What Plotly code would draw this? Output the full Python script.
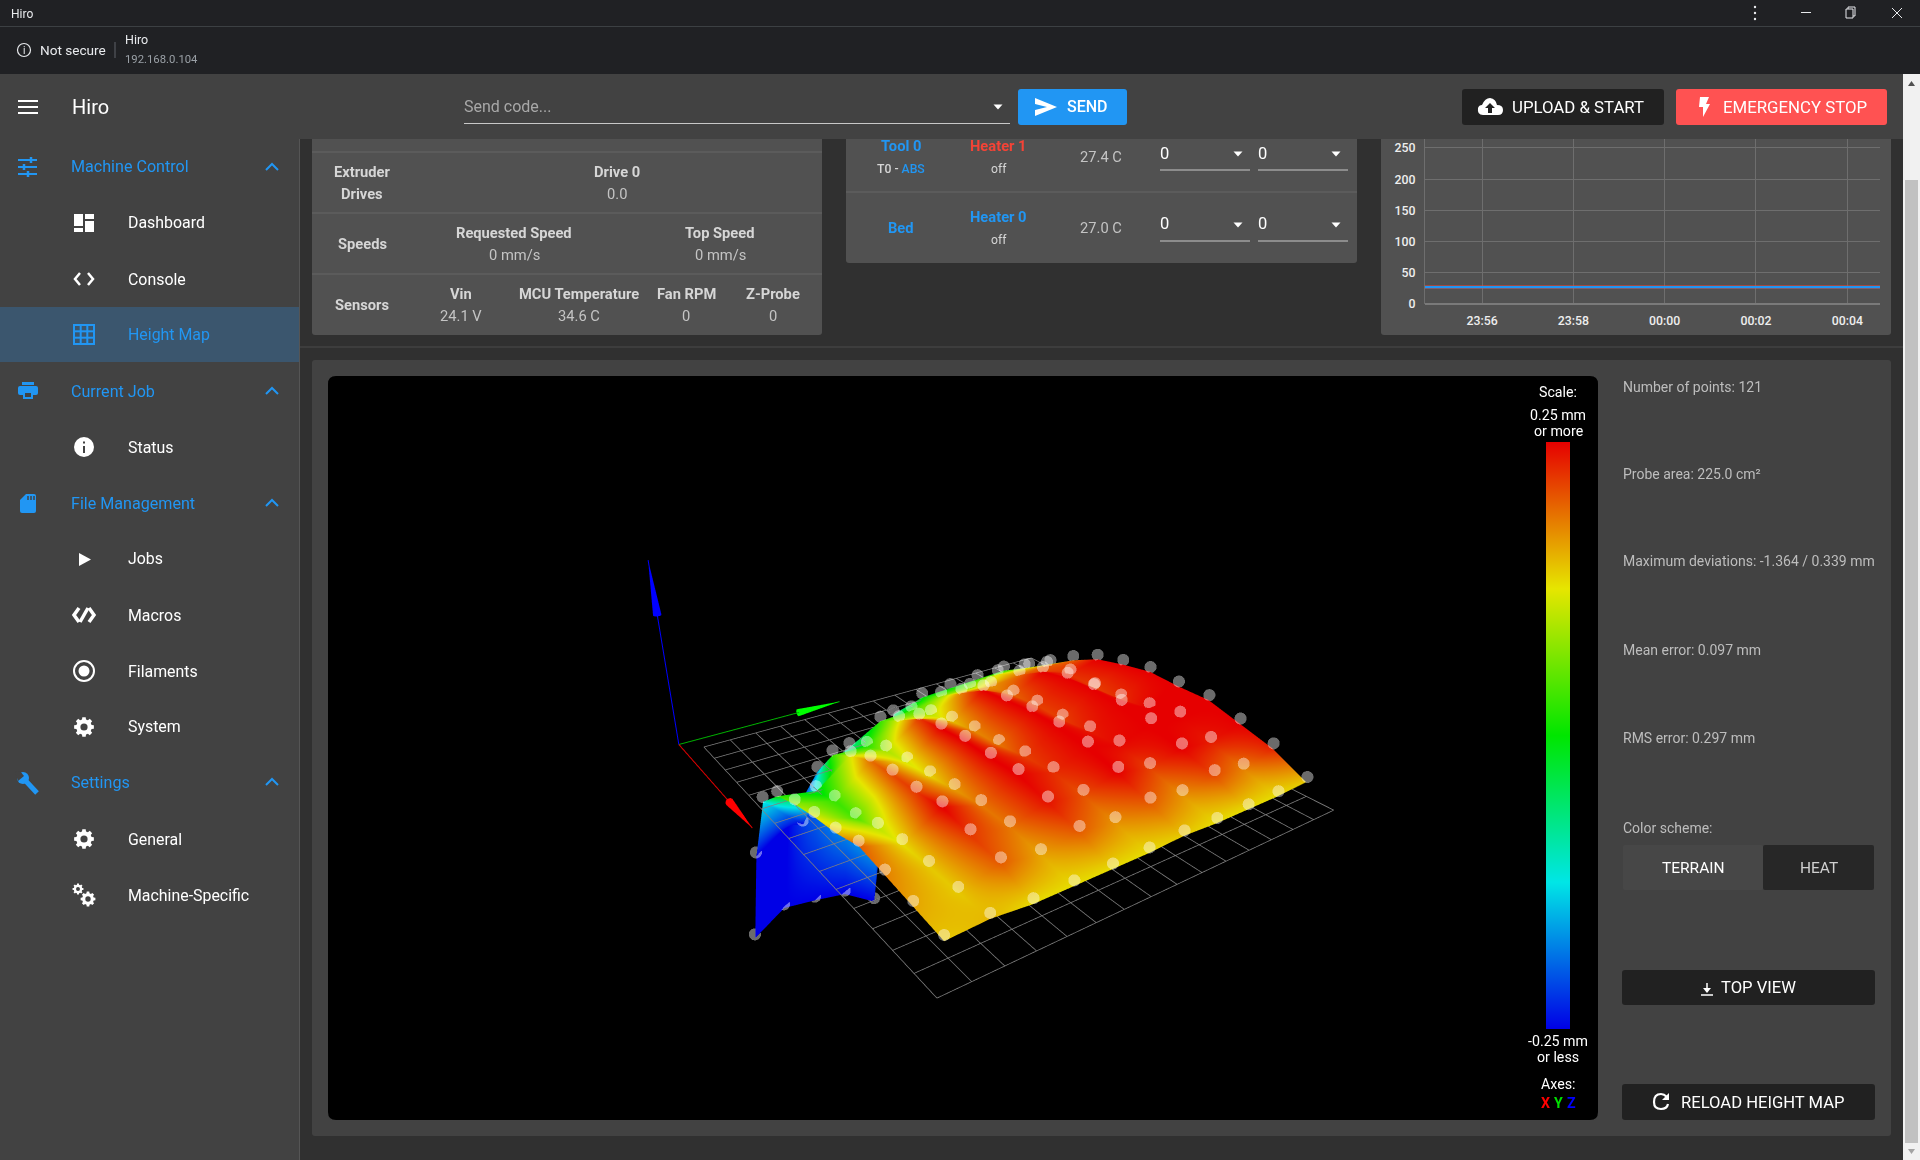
import re, math
import numpy as np
import plotly.graph_objects as go

W, H = 1920, 1160
probe_x = [0, 15, 30, 45, 60, 75, 90, 105, 120, 135, 150]
probe_y = [0, 15, 30, 45, 60, 75, 90, 105, 120, 135, 150]
grid_ticks = [-7.5 + 11 * k for k in range(16)]
# one list per X index, one value per Y index (mm)
z_x00 = [-1.32,-1.18,-1.21,-1.25,-1.40,-.07,-.01,0,.01,.02,-.01]
z_x01 = [-.59,-.45,-.17,-.08,.03,.04,.08,.08,.12,.11,.09]
z_x02 = [-.12,-.34,.03,.02,.12,.10,.18,.17,.19,.20,.19]
z_x03 = [.02,-.02,.12,.09,.22,.145,.28,.195,.29,.225,.27]
z_x04 = [.08,.03,.19,.115,.25,.175,.30,.215,.33,.215,.31]
z_x05 = [.12,.04,.21,.135,.27,.185,.32,.215,.34,.225,.34]
z_x06 = [.15,.10,.22,.165,.27,.215,.32,.235,.33,.255,.33]
z_x07 = [.20,.13,.25,.185,.28,.225,.30,.245,.31,.29,.33]
z_x08 = [.18,.14,.22,.185,.24,.205,.26,.215,.26,.235,.28]
z_x09 = [.16,.14,.20,.16,.20,.17,.20,.17,.21,.18,.23]
z_x10 = [.14,.15,.13,.13,.13,.13,.14,.13,.13,.13,.14]
z_by_x = [z_x00,z_x01,z_x02,z_x03,z_x04,z_x05,z_x06,z_x07,z_x08,z_x09,z_x10]
z_values = [[z_by_x[i][j] for i in range(11)] for j in range(11)]

times = ["2020-01-01 23:54:45","2020-01-01 23:57:00","2020-01-01 23:59:30","2020-01-02 00:02:00","2020-01-02 00:04:43"]
heater1 = [27.4,27.4,27.4,27.4,27.4]
heater0 = [27.0,27.0,27.0,27.0,27.0]
scale_colors = [[0,"#0000e6"],[.25,"#00e6e6"],[.5,"#00e600"],[.75,"#e6e600"],[1,"#e60000"]]

def fx(x): return x/W
def fy(y): return 1-y/H
def conv(d):
    out=[];isx=True
    for t in re.findall(r"[MLQCZ]|-?\d+\.?\d*",d):
        if t in "MLQCZ": out.append(t);isx=True
        else:
            out.append(str(fx(float(t))) if isx else str(fy(float(t))));isx=not isx
    return " ".join(out)
shapes=[];anns=[]
def path(d,fill=None,color=None,w=0,layer="above"):
    shapes.append(dict(type="path",path=conv(d),xref="paper",yref="paper",layer=layer,
        fillcolor=fill or "rgba(0,0,0,0)",line=dict(color=color or "rgba(0,0,0,0)",width=w)))
def rect(x0,y0,x1,y1,fill,r=0,layer="above"):
    if r==0: d=f"M {x0} {y0} L {x1} {y0} L {x1} {y1} L {x0} {y1} Z"
    else: d=(f"M {x0+r} {y0} L {x1-r} {y0} Q {x1} {y0} {x1} {y0+r} L {x1} {y1-r} Q {x1} {y1} {x1-r} {y1} "
             f"L {x0+r} {y1} Q {x0} {y1} {x0} {y1-r} L {x0} {y0+r} Q {x0} {y0} {x0+r} {y0} Z")
    path(d,fill=fill,layer=layer)
def line(x0,y0,x1,y1,c,w=1,layer="above"):
    shapes.append(dict(type="line",x0=fx(x0),x1=fx(x1),y0=fy(y0),y1=fy(y1),xref="paper",yref="paper",layer=layer,line=dict(color=c,width=w)))
def circ(cx,cy,r,fill=None,c=None,w=0):
    shapes.append(dict(type="circle",x0=fx(cx-r),x1=fx(cx+r),y0=fy(cy+r),y1=fy(cy-r),xref="paper",yref="paper",layer="above",
        fillcolor=fill or "rgba(0,0,0,0)",line=dict(color=c or "rgba(0,0,0,0)",width=w)))
def T(x,y,s,size=14.7,c="#ffffff",a="left",wt=400,fam="Roboto"):
    anns.append(dict(x=fx(x),y=fy(y),xref="paper",yref="paper",text=s,showarrow=False,xanchor=a,yanchor="middle",
        font=dict(family=fam,size=size,color=c,weight=wt),borderpad=0,borderwidth=0))
def tri(cx,cy,w=9,h=5,c="#ffffff"):
    path(f"M {cx-w/2} {cy-h/2} L {cx+w/2} {cy-h/2} L {cx} {cy+h/2} Z",fill=c)
def gear(cx,cy,R,hole):
    pts=[]
    for k in range(8):
        a=k*math.pi/4
        for da,rr in ((-.26,.78),(-.17,1),(.17,1),(.26,.78)):
            pts.append((cx+R*rr*math.cos(a+da),cy+R*rr*math.sin(a+da)))
    path("M "+" L ".join(f"{x:.2f} {y:.2f}" for x,y in pts)+" Z",fill="#ffffff")
    circ(cx,cy,R*.36,fill=hole)

BLUE="#2196f3";MAIN="#303030";BAR="#424242";CARD="#515151";TOP="#202124";RULE="#666666"
rect(312,130,822,335,CARD,3,layer="below")
rect(846,130,1357,263,CARD,3,layer="below")
rect(1381,130,1891,335,CARD,3,layer="below")
line(300,347,1903,347,"#4a4a4a",1,layer="below")
rect(312,360,1891,1136,BAR,3,layer="below")
rect(328,376,1598,1120,"#000000",8,layer="below")
for y in (152,213,274): line(312,y,822,y,RULE,1,layer="below")
line(846,192,1357,192,RULE,1,layer="below")
rect(0,0,1920,26,TOP);line(0,26.5,1920,26.5,"#3c4043",1)
rect(0,27,1920,74,TOP)
rect(0,74,1903,139,BAR)
rect(0,139,300,1160,BAR);line(299.5,139,299.5,1160,"#555555",1)
rect(0,307,299,362,"#3b566e")
T(11,14,"Hiro",12,"#e8eaed")
circ(24,50,6.5,c="#e8eaed",w=1.2);T(24,50,"i",10,"#e8eaed","center")
T(40,50,"Not secure",13.6,"#e8eaed")
line(115,42,115,58,"#5f6368",1)
T(125,40,"Hiro",12.5,"#e8eaed");T(125,59,"192.168.0.104",11.3,"#9aa0a6")
for dy in (7,13,19): circ(1755,dy,1.2,fill="#e8eaed")
line(1801,12.5,1811,12.5,"#e8eaed",1)
path("M 1846 9 L 1853 9 L 1853 18 L 1846 18 Z",color="#e8eaed",w=1);path("M 1848 9 L 1848 7 L 1855 7 L 1855 16 L 1853 16",color="#e8eaed",w=1)
line(1892,8,1902,18,"#e8eaed",1);line(1902,8,1892,18,"#e8eaed",1)
for y in (101,107,113): line(18,y,38,y,"#ffffff",2)
T(72,107,"Hiro",20,"#ffffff")
T(464,106,"Send code...",16,"#a8a8a8")
line(464,123.5,1010,123.5,"#c8c8c8",1.2);tri(998,107)
rect(1018,89,1127,125,BLUE,3)
path("M 1035 98 L 1057 107 L 1035 116 L 1035 110 L 1047 107 L 1035 104 Z",fill="#ffffff")
T(1087,107,"SEND",16,"#ffffff","center",500)
rect(1462,89,1664,125,"#212121",3)
path("M 1483 115 Q 1477 115 1478 108 Q 1479 105 1482 105 Q 1485 98 1490 98 Q 1496 99 1497 105 Q 1503 105 1503 110 Q 1503 115 1498 115 Z",fill="#ffffff")
path("M 1490 103 L 1495 108 L 1492 108 L 1492 113 L 1488 113 L 1488 108 L 1485 108 Z",fill="#212121")
T(1578,107,"UPLOAD & START",16.8,"#ffffff","center",400)
rect(1676,89,1887,125,"#ff5252",3)
path("M 1700 97 L 1709 97 L 1706 104 L 1710 104 L 1703 117 L 1703 107 L 1699 107 Z",fill="#ffffff")
T(1795,107,"EMERGENCY STOP",16.8,"#ffffff","center",400)
rect(1903,74,1920,1160,"#f1f1f1");rect(1905,180,1918,1143,"#c1c1c1")
path("M 1908 86 L 1915 86 L 1911.5 81 Z",fill="#505050");path("M 1908 1149 L 1915 1149 L 1911.5 1154 Z",fill="#a3a3a3")
groups=[("Machine Control",167),("Current Job",391),("File Management",503),("Settings",782)]
for s,y in groups:
    T(71,y,s,16.1,BLUE)
    path(f"M 266 {y+3} L 272 {y-3} L 278 {y+3}",color=BLUE,w=2)
items=[("Dashboard",223,"#ffffff"),("Console",279,"#ffffff"),("Height Map",335,BLUE),("Status",447,"#ffffff"),("Jobs",558,"#ffffff"),
       ("Macros",615,"#ffffff"),("Filaments",671,"#ffffff"),("System",727,"#ffffff"),("General",839,"#ffffff"),("Machine-Specific",895,"#ffffff")]
for s,y,c in items: T(128,y,s,15.9,c)
for y,x0,x1,bx in ((160,18,37,31),(167,18,37,24),(174,18,37,28)):
    line(x0,y,x1,y,BLUE,2);line(bx,y-3,bx,y+3,BLUE,2.5)
rect(74,214,83,226,"#ffffff");rect(74,228,83,232,"#ffffff");rect(85,214,94,219,"#ffffff");rect(85,221,94,232,"#ffffff")
path("M 80 273 L 75 279 L 80 285",color="#ffffff",w=2.5);path("M 88 273 L 93 279 L 88 285",color="#ffffff",w=2.5)
path("M 74 325 L 94 325 L 94 344 L 74 344 Z",color=BLUE,w=2)
for x in (80.7,87.3): line(x,325,x,344,BLUE,2)
for y in (331.3,337.7): line(74,y,94,y,BLUE,2)
rect(18,386,38,395,BLUE,2);rect(22,382,34,385,BLUE);rect(23,391,33,399,BLUE);rect(25,393,31,397,BAR)
circ(84,447,10,fill="#ffffff");rect(83,446,85,453,BAR);rect(83,441.5,85,443.5,BAR)
path("M 26 494 L 34 494 Q 36 494 36 496 L 36 511 Q 36 513 34 513 L 22 513 Q 20 513 20 511 L 20 500 Z",fill=BLUE)
for x in (28,31,34): line(x,496,x,500,BAR,1.5)
path("M 79 553 L 91 559.5 L 79 566 Z",fill="#ffffff")
for d in ("M 79 608 L 74 615 L 79 622","M 89 608 L 94 615 L 89 622","M 88 608 L 80 622"): path(d,color="#ffffff",w=3.5)
circ(84,671,10,c="#ffffff",w=2);circ(84,671,5.5,fill="#ffffff")
gear(84,727,10,BAR);gear(84,839,10,BAR);gear(78,889,5.5,BAR);gear(88,899,7.5,BAR)
line(37,793,24,779,BLUE,5);circ(23,778,6,fill=BLUE);path("M 20 771 L 24 776 L 18 781 L 15 772 Z",fill=BAR)
LAB="#d6d6d6";VAL="#c4c4c4"
T(362,172,"Extruder",14.7,LAB,"center",700);T(362,194,"Drives",14.7,LAB,"center",700)
T(617,172,"Drive 0",14.7,LAB,"center",700);T(617,194,"0.0",14.7,VAL,"center")
T(362,244,"Speeds",14.7,LAB,"center",700)
T(514,233,"Requested Speed",14.7,LAB,"center",700);T(514,255,"0 mm/s",14.7,VAL,"center")
T(720,233,"Top Speed",14.7,LAB,"center",700);T(720,255,"0 mm/s",14.7,VAL,"center")
T(362,305,"Sensors",14.7,LAB,"center",700)
for cx,a,b in ((461,"Vin","24.1 V"),(579,"MCU Temperature","34.6 C"),(686,"Fan RPM","0"),(773,"Z-Probe","0")):
    T(cx,294,a,14.7,LAB,"center",700);T(cx,316,b,14.7,VAL,"center")
T(901,146,"Tool 0",14.7,BLUE,"center",700)
T(901,169,f"T0 - <span style='color:{BLUE}'>ABS</span>",12.2,LAB,"center",500)
T(901,228,"Bed",14.7,BLUE,"center",700)
T(999,146,"Heater 1",14.7,"#f44336","center",700);T(999,169,"off",12.2,LAB,"center")
T(999,217,"Heater 0",14.7,BLUE,"center",700);T(999,240,"off",12.2,LAB,"center")
T(1101,157,"27.4 C",14.7,VAL,"center");T(1101,228,"27.0 C",14.7,VAL,"center")
for y,u in ((153,170),(224,241)):
    for x0,x1,ax in ((1160,1250,1238),(1258,1348,1336)):
        T(x0,y,"0",16.5,"#ffffff");tri(ax,y+1);line(x0,u,x1,u,"#c8c8c8",1.2)
for y,s in ((387,"Number of points: 121"),(474,"Probe area: 225.0 cm²"),(561,"Maximum deviations: -1.364 / 0.339 mm"),
            (650,"Mean error: 0.097 mm"),(738,"RMS error: 0.297 mm"),(828,"Color scheme:")):
    T(1623,y,s,14.0,"#bdbdbd")
rect(1623,845,1763,890,"#474747",2);rect(1763,845,1874,890,"#272727",2)
T(1693,868,"TERRAIN",15.5,"#ffffff","center",400);T(1819,868,"HEAT",15.5,"#d0d0d0","center",400)
rect(1622,970,1875,1005,"#212121",3)
line(1707,983,1707,992,"#ffffff",1.5);path("M 1703 988 L 1711 988 L 1707 993 Z",fill="#ffffff");line(1701,995,1713,995,"#ffffff",1.5)
T(1758,987.5,"TOP VIEW",16.6,"#ffffff","center",400)
rect(1622,1084,1875,1120,"#212121",3)
path("M 1667 1097 Q 1664 1094 1661 1094 Q 1654 1094 1654 1102 Q 1654 1109 1661 1109 Q 1667 1109 1668 1104",color="#ffffff",w=2.2)
path("M 1662 1100 L 1669 1100 L 1669 1093 Z",fill="#ffffff")
T(1762,1102,"RELOAD HEIGHT MAP",16.6,"#ffffff","center",400)
T(1558,392,"Scale:",14.2,"#ffffff","center")
T(1558,415,"0.25 mm",14.2,"#ffffff","center");T(1558,431,"or more",14.2,"#ffffff","center")
T(1558,1041,"-0.25 mm",14.2,"#ffffff","center");T(1558,1057,"or less",14.2,"#ffffff","center")
T(1558,1084,"Axes:",14.2,"#ffffff","center")
T(1545,1103,"X",14.2,"#ff0000","center",700);T(1558,1103,"Y",14.2,"#00e000","center",700);T(1571,1103,"Z",14.2,"#0000ff","center",700)

fig=go.Figure()
fig.add_trace(go.Scatter(x=times,y=heater1,mode="lines",line=dict(color="#f44336",width=3),hoverinfo="skip",showlegend=False))
fig.add_trace(go.Scatter(x=times,y=heater0,mode="lines",line=dict(color="#2196f3",width=2.2),hoverinfo="skip",showlegend=False))
Z_SCALE=68.5
fig.add_trace(go.Surface(x=probe_x,y=probe_y,z=z_values,surfacecolor=np.clip(np.array(z_values),-.25,.25).tolist(),cmin=-.25,cmax=.25,colorscale=scale_colors,hoverinfo="skip",scene="scene",
    lighting=dict(ambient=1,diffuse=0,specular=0,fresnel=0,roughness=1),
    colorbar=dict(thickness=24,thicknessmode="pixels",len=587,lenmode="pixels",x=fx(1546),xanchor="left",xpad=0,y=fy(1029),yanchor="bottom",ypad=0,
                  showticklabels=False,ticks="",outlinewidth=0,borderwidth=0)))
gx=[];gy=[];gz=[]
for t in grid_ticks:
    gx+=[t,t,None];gy+=[grid_ticks[0],grid_ticks[-1],None];gz+=[0,0,None]
    gx+=[grid_ticks[0],grid_ticks[-1],None];gy+=[t,t,None];gz+=[0,0,None]
fig.add_trace(go.Scatter3d(x=gx,y=gy,z=gz,mode="lines",line=dict(color="#808080",width=1.5),hoverinfo="skip",showlegend=False))
px=[probe_x[i] for j in range(11) for i in range(11)];py=[probe_y[j] for j in range(11) for i in range(11)]
pz=[z_values[j][i]+.03 for j in range(11) for i in range(11)]
fig.add_trace(go.Scatter3d(x=px,y=py,z=pz,mode="markers",marker=dict(size=7,color="#ffffff",opacity=.42,line=dict(width=0)),hoverinfo="skip",showlegend=False))
O=-15.0;AX=72.0
def arrow(d,cl,ch):
    tip=np.array([O,O,0.0])+np.array(d)*AX
    tip[2]=d[2]*AX/Z_SCALE
    if d[2]: tip[:2]=[O,O]
    fig.add_trace(go.Scatter3d(x=[O,tip[0]],y=[O,tip[1]],z=[0,tip[2]],mode="lines",line=dict(color=cl,width=2),hoverinfo="skip",showlegend=False))
    d=np.array(d,float);L=20.0;R=1.5
    u=np.array([1.,0,0]) if abs(d[0])<.5 else np.array([0,1.,0]);v=np.cross(d,u)
    xs=[];ys=[];zs=[];ii=[];jj=[];kk=[]
    base=np.array([tip[0],tip[1],tip[2]*Z_SCALE])-d*L
    xs.append(tip[0]);ys.append(tip[1]);zs.append(tip[2])
    for n in range(10):
        a=2*math.pi*n/10;p=base+R*(math.cos(a)*u+math.sin(a)*v)
        xs.append(p[0]);ys.append(p[1]);zs.append(p[2]/Z_SCALE)
        ii.append(0);jj.append(n+1);kk.append((n+1)%10+1)
    fig.add_trace(go.Mesh3d(x=xs,y=ys,z=zs,i=ii,j=jj,k=kk,color=ch,hoverinfo="skip",flatshading=True,lighting=dict(ambient=1,diffuse=0,specular=0,fresnel=0)))
arrow((1,0,0),"#dd0000","#ff0000");arrow((0,1,0),"#00b000","#00ff00");arrow((0,0,1),"#0000ff","#0000ff")

hid=dict(visible=False,showbackground=False,showgrid=False,zeroline=False,showspikes=False)
fig.update_layout(width=W,height=H,autosize=False,margin=dict(l=0,r=0,t=0,b=0,pad=0,autoexpand=False),paper_bgcolor=MAIN,plot_bgcolor="rgba(0,0,0,0)",
    showlegend=False,shapes=shapes,annotations=anns,
    xaxis=dict(domain=[fx(1425),fx(1880)],type="date",range=["2020-01-01 23:54:45","2020-01-02 00:04:43"],tick0="2020-01-01 23:56:00",dtick=120000,tickformat="%H:%M",
        showgrid=True,gridcolor="#6e6e6e",gridwidth=1,zeroline=False,showline=False,ticks="outside",ticklen=5,tickcolor="rgba(0,0,0,0)",tickfont=dict(family="Roboto",size=12.3,color="#eeeeee",weight=500)),
    yaxis=dict(domain=[fy(304),fy(139)],range=[0,264.4],tick0=0,dtick=50,showgrid=True,gridcolor="#6e6e6e",gridwidth=1,zeroline=True,zerolinecolor="#7a7a7a",showline=True,linecolor="#6e6e6e",
        ticks="outside",ticklen=6,tickcolor="rgba(0,0,0,0)",tickfont=dict(family="Roboto",size=12.3,color="#eeeeee",weight=500)),
    scene=dict(domain=dict(x=[fx(328),fx(1598)],y=[fy(1128),fy(368)]),bgcolor="rgba(0,0,0,0)",
        xaxis=dict(range=[-25,165],**hid),yaxis=dict(range=[-25,165],**hid),zaxis=dict(range=[-1.5,1.5],**hid),
        aspectmode="manual",aspectratio=dict(x=190/165,y=.96*190/165,z=3*.371/.89),
        camera=dict(eye=dict(x=1.430,y=-1.008,z=.9825),center=dict(x=-.0384,y=-.0172,z=.0543),up=dict(x=-.3819,y=.2636,z=.8858),projection=dict(type="perspective"))))
fig.write_html("out.html",config=dict(displayModeBar=False,responsive=False),post_script="document.body.style.margin='0';document.body.style.overflow='hidden';document.body.style.background='#303030';")
